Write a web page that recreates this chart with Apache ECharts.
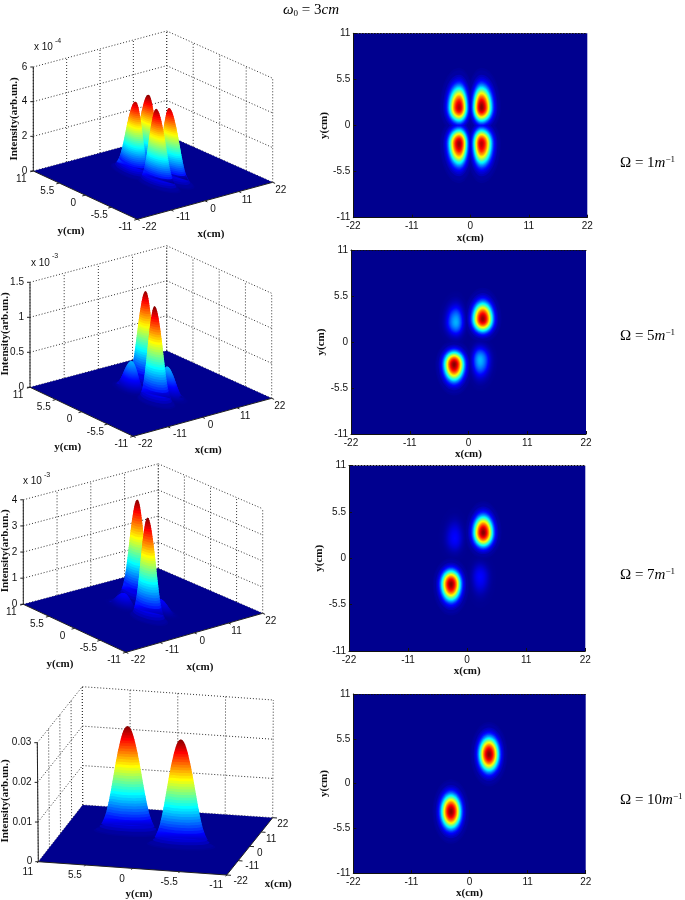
<!DOCTYPE html>
<html><head><meta charset="utf-8">
<style>html,body{margin:0;padding:0;background:#fff}#c{width:685px;height:900px}</style>
<script src="https://cdn.jsdelivr.net/npm/echarts@6/dist/echarts.min.js"></script>
</head><body><div id="c"></div>
<script>
// ---- data ----
const X_TICKS = [-22, -11, 0, 11, 22];
const Y_TICKS = [11, 5.5, 0, -5.5, -11];
const Z_TICKS_1 = [0, 2, 4, 6];
const Z_TICKS_2 = [0, 0.5, 1, 1.5];
const Z_TICKS_3 = [0, 1, 2, 3, 4];
const Z_TICKS_4 = [0, 0.01, 0.02, 0.03];
// peak: x(cm), y(cm), height, reach left, right, up, down (cm)
const PEAKS_1 = [
  [-2.1, 2.15, 4.17, 3.3, 2.6, 4.3, 2.9], [2.1, 2.15, 4.37, 2.6, 3.3, 4.3, 2.9],
  [-2.1, -2.15, 4.30, 3.3, 2.6, 2.9, 4.3], [2.1, -2.15, 4.15, 2.6, 3.3, 2.9, 4.3]];
const PEAKS_2 = [
  [2.67, 2.75, 1.34, 3.2, 3.2, 3.4, 2.6], [-2.7, -2.67, 1.36, 3.2, 3.2, 2.6, 3.4],
  [-2.34, 2.36, 0.41, 3.0, 2.4, 3.4, 2.6], [2.15, -2.15, 0.42, 2.4, 3.0, 2.6, 3.4]];
const PEAKS_3 = [
  [3.0, 3.05, 3.87, 3.1, 3.1, 3.4, 2.8], [-3.0, -3.05, 3.87, 3.1, 3.1, 2.8, 3.4],
  [-2.28, 2.36, 0.5, 2.8, 2.4, 3.4, 2.6], [2.38, -2.18, 0.5, 2.4, 2.8, 2.6, 3.4]];
const PEAKS_4 = [
  [3.69, 3.6, 0.0271, 3.2, 3.2, 3.6, 3.6], [-3.5, -3.45, 0.0271, 3.2, 3.2, 3.6, 3.6]];
// shared peak profile: height fraction and the matching fraction of the reach
const PROFILE_LEVEL = [.01,.02,.05,.075,.1,.125,.15,.175,.2,.225,.25,.275,.3,.325,.35,.375,.4,.425,.45,.475,.5,.525,.55,.575,.6,.625,.65,.675,.7,.725,.75,.775,.8,.825,.85,.875,.9,.925,.95,.975,.99];
const PROFILE_REACH = [1.1,1.03,.91,.85,.805,.765,.735,.705,.68,.66,.64,.62,.60,.585,.57,.55,.535,.52,.505,.49,.475,.46,.445,.43,.415,.40,.385,.37,.35,.335,.32,.30,.28,.26,.24,.22,.195,.17,.14,.10,.06];
const SPECTRUM_LABELS = ['1', '5', '7', '10'];

// ---- layout: 2D maps and the corners of each 3D box (left, front, right, back) ----
const MAPS = [
  {left: 353.3, top: 33.3, right: 587.3, bottom: 217.7},
  {left: 351, top: 250, right: 586, bottom: 434},
  {left: 349, top: 465.7, right: 585.3, bottom: 651},
  {left: 353.3, top: 694, right: 585.7, bottom: 875.7}
];
const up = (p, h) => [p[0], p[1] - h];
const BOX = [
  {base: [[33.3,171],[137.3,219.3],[272.7,182.3],[166.7,135]], h: 104, yOff: [-12,7.8], xOff: [8,8.2], xOffNeg: [12,7.6],
   zTicks: Z_TICKS_1, peaks: PEAKS_1, exp: '-4', expAt: [34,47.7], zName: [14,119], yName: [71,231], xName: [211,234.3]},
  {base: [[30,387.3],[133.3,436.3],[271.7,398.3],[166.7,350.7]], h: 105, yOff: [-12,7.8], xOff: [8,8.2], xOffNeg: [12,7.6],
   zTicks: Z_TICKS_2, peaks: PEAKS_2, exp: '-3', expAt: [31,263], zName: [4.7,334], yName: [67.7,447.3], xName: [208.3,450]},
  {base: [[23.3,604.3],[126,652.3],[262.7,613.3],[158.3,568.3]], h: 104.5, yOff: [-12,7.8], xOff: [8,8.2], xOffNeg: [12,7.6],
   zTicks: Z_TICKS_3, peaks: PEAKS_3, exp: '-3', expAt: [23,481.7], zName: [4.7,550.8], yName: [60,664.3], xName: [200,667.3]},
  {base: [[38.3,861.7],[226.7,875],[272.7,817.7],[82.7,805]], tops: [[37.3,742.7],[226.3,756],[273.3,700],[82.3,686.7]],
   yOff: [-10.5,10.6], xOff: [10,7], xOffNeg: [14,6], zTicks: Z_TICKS_4, peaks: PEAKS_4,
   zName: [4.7,801], yName: [139,894.3], xName: [278.3,884]}
];
const SANS = '"Liberation Sans"', SERIF = '"Liberation Serif"';
const TICK_FONT = '10px ' + SANS, NAME_FONT = 'bold 11px ' + SERIF;

function jet(t) {
  const r = Math.min(4 * t - 1.5, -4 * t + 4.5);
  const g = Math.min(4 * t - .5, -4 * t + 3.5);
  const b = t < .125 ? .5625 + 3.5 * t : Math.min(1, -4 * t + 2.5);
  const c = v => Math.round(255 * Math.max(0, Math.min(1, v)));
  return 'rgb(' + c(r) + ',' + c(g) + ',' + c(b) + ')';
}
const contour = (pk, k) => {
  const out = [];
  for (let a = 0; a < 48; a++) {
    const th = a / 48 * 2 * Math.PI, c = Math.cos(th), s = Math.sin(th);
    out.push([pk[0] + (c >= 0 ? pk[4] : pk[3]) * c * PROFILE_REACH[k], pk[1] + (s >= 0 ? pk[5] : pk[6]) * s * PROFILE_REACH[k]]);
  }
  return out;
};

function project(box, x, y, z) {
  const tops = box.tops || box.base.map(p => up(p, box.h));
  const zMax = box.zTicks[box.zTicks.length - 1];
  const u = (x + 22) / 44, v = (11 - y) / 22, w = z / zMax;
  const bil = q => {
    const a = [q[0][0] + (q[1][0] - q[0][0]) * v, q[0][1] + (q[1][1] - q[0][1]) * v];
    const b = [q[3][0] + (q[2][0] - q[3][0]) * v, q[3][1] + (q[2][1] - q[3][1]) * v];
    return [a[0] + (b[0] - a[0]) * u, a[1] + (b[1] - a[1]) * u];
  };
  const p0 = bil(box.base), p1 = bil(tops);
  return [p0[0] + (p1[0] - p0[0]) * w, p0[1] + (p1[1] - p0[1]) * w];
}

function buildRows(box) {
  const rows = [];
  const zMax = box.zTicks[box.zTicks.length - 1];
  const P = (x, y, z) => project(box, x, y, z);
  const dotted = (a, b) => rows.push({kind: 'line', a, b, stroke: '#333', w: 1, dash: [1, 2]});
  const solid = (a, b) => rows.push({kind: 'line', a, b, stroke: '#222', w: 1});
  const text = (t, at, font, align, extra) => rows.push(Object.assign({kind: 'text', t, at, font, align}, extra || {}));

  box.zTicks.forEach(z => { dotted(P(-22, 11, z), P(22, 11, z)); dotted(P(22, 11, z), P(22, -11, z)); });
  X_TICKS.forEach(x => dotted(P(x, 11, 0), P(x, 11, zMax)));
  Y_TICKS.forEach(y => dotted(P(22, y, 0), P(22, y, zMax)));
  rows.push({kind: 'poly', pts: [P(-22, 11, 0), P(-22, -11, 0), P(22, -11, 0), P(22, 11, 0)], fill: jet(0)});

  const top = Math.max.apply(null, box.peaks.map(p => p[2]));
  const order = box.peaks.map((p, i) => i).sort((a, b) =>
    P(box.peaks[a][0], box.peaks[a][1], 0)[1] - P(box.peaks[b][0], box.peaks[b][1], 0)[1]);
  const low = [], high = [];
  order.forEach(i => {
    const pk = box.peaks[i];
    // outline of the whole peak, so the stacked slices leave no notches at its edge
    const lefts = [], rights = [];
    PROFILE_LEVEL.forEach((f, k) => {
      if (f < .075) return;
      const ring = contour(pk, k).map(q => P(q[0], q[1], pk[2] * f));
      lefts.push(ring.reduce((m, q) => q[0] < m[0] ? q : m));
      rights.push(ring.reduce((m, q) => q[0] > m[0] ? q : m));
    });
    const apex = P(pk[0], pk[1], pk[2]), foot = P(pk[0], pk[1], 0);
    const stops = PROFILE_LEVEL.map(f => ({offset: f, color: jet(pk[2] * f / top)}));
    stops.push({offset: 1, color: jet(pk[2] / top)});
    high.push({kind: 'poly', pts: lefts.concat([apex], rights.reverse()),
      fill: new echarts.graphic.LinearGradient(0, foot[1], 0, apex[1], stops, true)});
    PROFILE_LEVEL.forEach((f, k) => {
      const z = pk[2] * f;
      const row = {kind: 'poly', pts: contour(pk, k).map(q => P(q[0], q[1], z)), fill: jet(z / top), z};
      (f < .15 ? low : high).push(row);
    });
  });
  low.sort((a, b) => a.z - b.z);
  low.concat(high).forEach(r => rows.push(r));

  solid(P(-22, 11, 0), P(-22, 11, zMax));
  solid(P(-22, 11, 0), P(-22, -11, 0));
  solid(P(-22, -11, 0), P(22, -11, 0));
  box.zTicks.forEach(z => {
    const p = P(-22, 11, z);
    solid(p, [p[0] - 3, p[1]]);
    text(String(z), [p[0] - 6, p[1]], TICK_FONT, 'right');
  });
  Y_TICKS.forEach(y => {
    const p = P(-22, y, 0);
    solid(p, P(-23, y, 0));
    text(String(y), [p[0] + box.yOff[0], p[1] + box.yOff[1]], TICK_FONT, 'center');
  });
  X_TICKS.forEach(x => {
    const p = P(x, -11, 0), o = x < 0 ? box.xOffNeg : box.xOff;
    solid(p, P(x, -11.5, 0));
    text(String(x), [p[0] + o[0], p[1] + o[1]], TICK_FONT, 'center');
  });
  if (box.exp) {
    text('x 10', box.expAt, TICK_FONT, 'left');
    text(box.exp, [box.expAt[0] + 21, box.expAt[1] - 7], '7px ' + SANS, 'left');
  }
  text('y(cm)', box.yName, NAME_FONT, 'center');
  text('x(cm)', box.xName, NAME_FONT, 'center');
  text('Intensity(arb.un.)', box.zName, NAME_FONT, 'center', {rot: Math.PI / 2});
  return rows;
}

function mapRows(peaks) {
  const top = Math.max.apply(null, peaks.map(p => p[2]));
  const rows = [];
  peaks.forEach(pk => PROFILE_LEVEL.forEach((f, k) =>
    rows.push({pts: contour(pk, k), level: pk[2] * f / top})));
  rows.sort((a, b) => a.level - b.level);
  return rows;
}

// ---- chart ----
const chart = echarts.init(document.getElementById('c'), null, {renderer: 'canvas'});
const grids = [], xAxes = [], yAxes = [], series = [];
const axisColor = '#111';
MAPS.forEach((m, i) => {
  grids.push({left: m.left, top: m.top, width: m.right - m.left, height: m.bottom - m.top,
    show: true, backgroundColor: jet(0), borderWidth: 0});
  const lab = {color: '#111', fontFamily: SANS, fontSize: 10, margin: 4};
  xAxes.push({gridIndex: i, type: 'value', min: -22, max: 22, interval: 11, splitLine: {show: false},
    axisLine: {onZero: false, lineStyle: {color: axisColor, width: 1}},
    axisTick: {inside: true, length: 3, lineStyle: {color: axisColor}}, axisLabel: lab, z: 5,
    name: 'x(cm)', nameLocation: 'middle', nameGap: 15,
    nameTextStyle: {fontFamily: SERIF, fontWeight: 'bold', fontSize: 11, color: '#111'}});
  yAxes.push({gridIndex: i, type: 'value', min: -11, max: 11, interval: 5.5, splitLine: {show: false},
    axisLine: {onZero: false, lineStyle: {color: axisColor, width: 1}},
    axisTick: {inside: true, length: 3, lineStyle: {color: axisColor}}, axisLabel: Object.assign({}, lab, {margin: 3}), z: 5,
    name: 'y(cm)', nameLocation: 'middle', nameGap: 14,
    nameTextStyle: {fontFamily: SERIF, fontWeight: 'bold', fontSize: 11, color: '#111'}});
  xAxes.push({gridIndex: i, type: 'value', position: 'top', min: -22, max: 22, interval: 11, splitLine: {show: false},
    axisLine: {onZero: false, lineStyle: {color: '#111', width: 1, type: [1, 2]}}, axisTick: {show: false}, axisLabel: {show: false}, z: 5});
  const rows = mapRows(BOX[i].peaks);
  series.push({type: 'custom', coordinateSystem: 'cartesian2d', xAxisIndex: i * 2, yAxisIndex: i, silent: true, animation: false, clip: true,
    data: rows.map((r, j) => [j]),
    renderItem: (params, api) => {
      const r = rows[params.dataIndex];
      return {type: 'polygon', shape: {points: r.pts.map(p => api.coord(p))}, style: {fill: jet(r.level)}};
    }});
});
// overlay whose scales are the page itself, for the projected 3D boxes
grids.push({left: 0, top: 0, width: 685, height: 900, show: false});
const screenX = xAxes.length, screenY = yAxes.length;
xAxes.push({gridIndex: MAPS.length, type: 'value', min: 0, max: 685, show: false});
yAxes.push({gridIndex: MAPS.length, type: 'value', min: 0, max: 900, inverse: true, show: false});
BOX.forEach(box => {
  const rows = buildRows(box);
  series.push({type: 'custom', coordinateSystem: 'cartesian2d', xAxisIndex: screenX, yAxisIndex: screenY, silent: true, animation: false, clip: false,
    data: rows.map((r, j) => [j]),
    renderItem: (params, api) => {
      const r = rows[params.dataIndex];
      if (r.kind === 'poly') return {type: 'polygon', shape: {points: r.pts.map(p => api.coord(p))}, style: {fill: r.fill}};
      if (r.kind === 'line') {
        const a = api.coord(r.a), b = api.coord(r.b);
        return {type: 'line', shape: {x1: a[0], y1: a[1], x2: b[0], y2: b[1]}, style: {stroke: r.stroke, lineWidth: r.w, lineDash: r.dash || null}};
      }
      const at = api.coord(r.at);
      return {type: 'text', x: at[0], y: at[1], rotation: r.rot || 0,
        style: {text: r.t, x: 0, y: 0, font: r.font, fill: '#111', textAlign: r.align, textVerticalAlign: 'middle'}};
    }});
});

const mathRich = {
  a: {fontFamily: SERIF, fontSize: 15, color: '#111'},
  i: {fontFamily: SERIF, fontSize: 15, fontStyle: 'italic', color: '#111'},
  s: {fontFamily: SERIF, fontSize: 9, color: '#111', verticalAlign: 'top', lineHeight: 16},
  b: {fontFamily: SERIF, fontSize: 9, color: '#111', verticalAlign: 'bottom', lineHeight: 16}
};
const labelY = [164, 337, 576, 801];
const graphic = [{type: 'text', left: 283, top: 3, z: 50,
  style: {text: '{i|\u03c9}{b|0}{a| = 3}{i|cm}', rich: mathRich}}];
SPECTRUM_LABELS.forEach((s, i) => graphic.push({type: 'text', left: 620, top: labelY[i] - 9, z: 50,
  style: {text: '{a|\u03a9 = ' + s + '}{i|m}{s|\u22121}', rich: mathRich}}));

chart.setOption({animation: false, backgroundColor: '#fff', textStyle: {fontFamily: SANS},
  grid: grids, xAxis: xAxes, yAxis: yAxes, series, graphic});
</script></body></html>
